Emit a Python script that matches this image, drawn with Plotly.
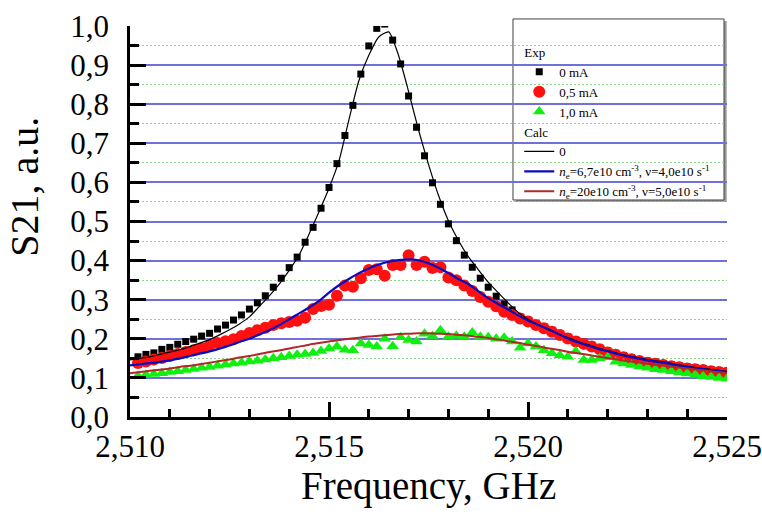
import plotly.graph_objects as go

# ---------------- data ----------------
FREQ = [2.5102, 2.5104, 2.5106, 2.5108, 2.5110, 2.5112, 2.5114, 2.5116, 2.5118, 2.5120,
        2.5122, 2.5124, 2.5126, 2.5128, 2.5130, 2.5132, 2.5134, 2.5136, 2.5138, 2.5140,
        2.5142, 2.5144, 2.5146, 2.5148, 2.5150, 2.5152, 2.5154, 2.5156, 2.5158, 2.5160,
        2.5162, 2.5164, 2.5166, 2.5168, 2.5170, 2.5172, 2.5174, 2.5176, 2.5178, 2.5180,
        2.5182, 2.5184, 2.5186, 2.5188, 2.5190, 2.5192, 2.5194, 2.5196, 2.5198, 2.5200,
        2.5202, 2.5204, 2.5206, 2.5208, 2.5210, 2.5212, 2.5214, 2.5216, 2.5218, 2.5220,
        2.5222, 2.5224, 2.5226, 2.5228, 2.5230, 2.5232, 2.5234, 2.5236, 2.5238, 2.5240,
        2.5242, 2.5244, 2.5246, 2.5248, 2.5250]

EXP_0MA = [0.154, 0.160, 0.164, 0.173, 0.178, 0.186, 0.193, 0.199, 0.207, 0.214,
           0.225, 0.235, 0.248, 0.261, 0.276, 0.292, 0.310, 0.332, 0.355, 0.382,
           0.409, 0.447, 0.485, 0.534, 0.587, 0.648, 0.720, 0.797, 0.877, 0.949,
           0.994, 1.005, 0.964, 0.903, 0.821, 0.741, 0.668, 0.599, 0.544, 0.494,
           0.451, 0.414, 0.383, 0.355, 0.332, 0.309, 0.289, 0.274, 0.256, 0.248,
           0.239, 0.231, 0.222, 0.214, 0.205, 0.197, 0.191, 0.184, 0.177, 0.169,
           0.163, 0.157, 0.152, 0.147, 0.143, 0.140, 0.137, 0.134, 0.131, 0.128,
           0.126, 0.124, 0.121, 0.119, 0.117]

EXP_05MA = [0.138, 0.142, 0.147, 0.151, 0.156, 0.161, 0.166, 0.171, 0.176, 0.183,
            0.189, 0.194, 0.199, 0.207, 0.215, 0.222, 0.228, 0.235, 0.240, 0.243,
            0.246, 0.254, 0.276, 0.284, 0.287, 0.310, 0.336, 0.333, 0.355, 0.376,
            0.378, 0.361, 0.389, 0.389, 0.414, 0.389, 0.397, 0.381, 0.383, 0.357,
            0.350, 0.336, 0.322, 0.307, 0.295, 0.283, 0.269, 0.261, 0.252, 0.244,
            0.235, 0.227, 0.218, 0.210, 0.201, 0.193, 0.187, 0.180, 0.173, 0.165,
            0.159, 0.153, 0.148, 0.143, 0.139, 0.136, 0.133, 0.130, 0.127, 0.124,
            0.122, 0.120, 0.117, 0.115, 0.113]

EXP_10MA = [0.105, 0.108, 0.110, 0.112, 0.115, 0.117, 0.120, 0.123, 0.126, 0.128,
            0.131, 0.134, 0.137, 0.139, 0.142, 0.144, 0.147, 0.150, 0.153, 0.156,
            0.159, 0.161, 0.164, 0.169, 0.175, 0.180, 0.172, 0.171, 0.188, 0.184,
            0.180, 0.200, 0.181, 0.204, 0.197, 0.193, 0.213, 0.207, 0.222, 0.205,
            0.208, 0.205, 0.216, 0.205, 0.204, 0.200, 0.203, 0.193, 0.177, 0.188,
            0.180, 0.171, 0.163, 0.158, 0.154, 0.168, 0.146, 0.146, 0.150, 0.153,
            0.141, 0.137, 0.133, 0.129, 0.126, 0.122, 0.120, 0.117, 0.114, 0.111,
            0.108, 0.104, 0.102, 0.100, 0.098]

CALC_FREQ = [2.51000, 2.51025, 2.51050, 2.51075, 2.51100, 2.51125, 2.51150, 2.51175,
             2.51200, 2.51225, 2.51250, 2.51275, 2.51300, 2.51325, 2.51350, 2.51375,
             2.51400, 2.51425, 2.51450, 2.51475, 2.51500, 2.51525, 2.51550, 2.51575,
             2.51600, 2.51625, 2.51650, 2.51675, 2.51700, 2.51725, 2.51750, 2.51775,
             2.51800, 2.51825, 2.51850, 2.51875, 2.51900, 2.51925, 2.51950, 2.51975,
             2.52000, 2.52025, 2.52050, 2.52075, 2.52100, 2.52125, 2.52150, 2.52175,
             2.52200, 2.52225, 2.52250, 2.52275, 2.52300, 2.52325, 2.52350, 2.52375,
             2.52400, 2.52425, 2.52450, 2.52475, 2.52500]

CALC_0 = [0.146, 0.150, 0.154, 0.160, 0.166, 0.172, 0.180, 0.189, 0.198, 0.210,
          0.223, 0.238, 0.256, 0.283, 0.310, 0.340,
          0.375, 0.415, 0.468, 0.525, 0.585, 0.655, 0.760, 0.860, 0.925, 0.972,
          0.985, 0.924, 0.832, 0.734, 0.646, 0.567, 0.502, 0.452, 0.410, 0.377,
          0.345, 0.318, 0.292, 0.268, 0.250, 0.236, 0.224, 0.213, 0.203, 0.193,
          0.185, 0.177, 0.170, 0.163, 0.157, 0.152, 0.147, 0.143, 0.139, 0.134,
          0.130, 0.126, 0.123, 0.120, 0.117]

CALC_67 = [0.132, 0.135, 0.138, 0.141, 0.145, 0.150, 0.156, 0.162, 0.168, 0.175,
           0.183, 0.192, 0.200, 0.211, 0.222, 0.235,
           0.250, 0.265, 0.280, 0.297, 0.318, 0.337, 0.353, 0.368, 0.380, 0.390,
           0.397, 0.401, 0.403, 0.401, 0.393, 0.382, 0.368, 0.353, 0.340, 0.322,
           0.304, 0.289, 0.275, 0.260, 0.247, 0.236, 0.225, 0.213, 0.201, 0.191,
           0.183, 0.175, 0.168, 0.161, 0.155, 0.150, 0.145, 0.141, 0.137, 0.132,
           0.128, 0.124, 0.121, 0.118, 0.115]

CALC_20 = [0.112, 0.115, 0.118, 0.121, 0.124, 0.128, 0.131, 0.135, 0.139, 0.143,
           0.147, 0.152, 0.156, 0.161, 0.166, 0.170, 0.175, 0.180, 0.185, 0.189,
           0.193, 0.197, 0.200, 0.203, 0.206, 0.208, 0.210, 0.212, 0.213, 0.214,
           0.214, 0.213, 0.212, 0.210, 0.208,
           0.205, 0.202, 0.198, 0.194, 0.190, 0.185, 0.181, 0.176, 0.172, 0.167,
           0.163, 0.159, 0.155, 0.151, 0.147, 0.143, 0.140, 0.136, 0.133, 0.130,
           0.127, 0.124, 0.121, 0.118, 0.115, 0.112]

X_TICKS = [2.510, 2.515, 2.520, 2.525]
Y_TICKS = [0.0, 0.1, 0.2, 0.3, 0.4, 0.5, 0.6, 0.7, 0.8, 0.9, 1.0]

X_TITLE = "Frequency, GHz"
Y_TITLE = "S21, a.u."
LABELS_EXP = ["0 mA", "0,5 mA", "1,0 mA"]
LABELS_CALC = ["0",
               "<i>n</i><sub>e</sub>=6,7e10 cm<sup>-3</sup>, ν=4,0e10 s<sup>-1</sup>",
               "<i>n</i><sub>e</sub>=20e10 cm<sup>-3</sup>, ν=5,0e10 s<sup>-1</sup>"]

SERIF = "Liberation Serif"

fig = go.Figure()

fig.add_trace(go.Scatter(x=FREQ, y=EXP_0MA, mode="markers", name=LABELS_EXP[0],
                         marker=dict(symbol="square", size=7, color="black"),
                         legendgroup="exp", legendgrouptitle=dict(text="Exp")))
fig.add_trace(go.Scatter(x=FREQ, y=EXP_05MA, mode="markers", name=LABELS_EXP[1],
                         marker=dict(symbol="circle", size=12, color="#ff1010"),
                         legendgroup="exp"))
fig.add_trace(go.Scatter(x=FREQ, y=EXP_10MA, mode="markers", name=LABELS_EXP[2],
                         marker=dict(symbol="triangle-up", size=11, color="#10f010"),
                         legendgroup="exp"))
fig.add_trace(go.Scatter(x=CALC_FREQ, y=CALC_0, mode="lines", name=LABELS_CALC[0],
                         line=dict(color="black", width=1.2, shape="spline", smoothing=0.6),
                         legendgroup="calc", legendgrouptitle=dict(text="Calc")))
fig.add_trace(go.Scatter(x=CALC_FREQ, y=CALC_67, mode="lines", name=LABELS_CALC[1],
                         line=dict(color="#0a0ac0", width=2.2, shape="spline", smoothing=0.6),
                         legendgroup="calc"))
fig.add_trace(go.Scatter(x=CALC_FREQ, y=CALC_20, mode="lines", name=LABELS_CALC[2],
                         line=dict(color="#b02828", width=2, shape="spline", smoothing=0.6),
                         legendgroup="calc"))

# legend frame (white box with a soft shadow)
fig.add_shape(type="rect", xref="paper", yref="paper", layer="between",
              x0=0.6465, x1=0.9995, y0=0.550, y1=1.013,
              fillcolor="#9a9a9a", line=dict(width=0))
fig.add_shape(type="rect", xref="paper", yref="paper", layer="between",
              x0=0.6415, x1=0.9950, y0=0.555, y1=1.018,
              fillcolor="white", line=dict(color="#404040", width=1))

# axis titles
fig.add_annotation(xref="paper", yref="paper", x=0.5, y=-0.176, xanchor="center",
                   yanchor="middle", showarrow=False, text=X_TITLE,
                   font=dict(family=SERIF, size=39, color="black"))
fig.add_annotation(xref="paper", yref="paper", x=-0.177, y=0.59, xanchor="center",
                   yanchor="middle", showarrow=False, text=Y_TITLE, textangle=-90,
                   font=dict(family=SERIF, size=40, color="black"))

fig.update_layout(
    width=762, height=515,
    margin=dict(l=130, r=35, t=26, b=98, autoexpand=False),
    paper_bgcolor="white", plot_bgcolor="white",
    separators=",.",
    font=dict(family=SERIF, color="black"),
    showlegend=True,
    legend=dict(x=0.652, y=0.972, xanchor="left", yanchor="top",
                bgcolor="rgba(0,0,0,0)", borderwidth=0,
                font=dict(family=SERIF, size=13, color="black"),
                grouptitlefont=dict(family=SERIF, size=13, color="black"),
                tracegroupgap=0, itemsizing="trace", traceorder="grouped"),
    xaxis=dict(range=[2.510, 2.525], tickvals=X_TICKS, tickformat=".3f",
               automargin=False, ticklabeloverflow="allow",
               showgrid=False, zeroline=False,
               showline=True, linecolor="black", linewidth=2.5,
               ticks="inside", ticklen=15, tickwidth=2.5, tickcolor="black",
               tickfont=dict(family=SERIF, size=31),
               minor=dict(dtick=0.001, ticks="inside", ticklen=8, tickwidth=2.5,
                          tickcolor="black", showgrid=False)),
    yaxis=dict(range=[0, 1.0], tickvals=Y_TICKS, tickformat=".1f",
               automargin=False, ticklabeloverflow="allow", ticklabelstandoff=12,
               showgrid=True, gridcolor="#7070dc", gridwidth=1.5, zeroline=False,
               showline=True, linecolor="black", linewidth=2.5,
               ticks="inside", ticklen=16, tickwidth=2.5, tickcolor="black",
               tickfont=dict(family=SERIF, size=31),
               minor=dict(dtick=0.05, ticks="inside", ticklen=9, tickwidth=2.5,
                          tickcolor="black", showgrid=True, gridcolor="#86d486",
                          gridwidth=1, griddash="2px,2px")),
)

fig.write_html("out.html", config={"displayModeBar": False},
               post_script="document.body.style.margin='0';")
